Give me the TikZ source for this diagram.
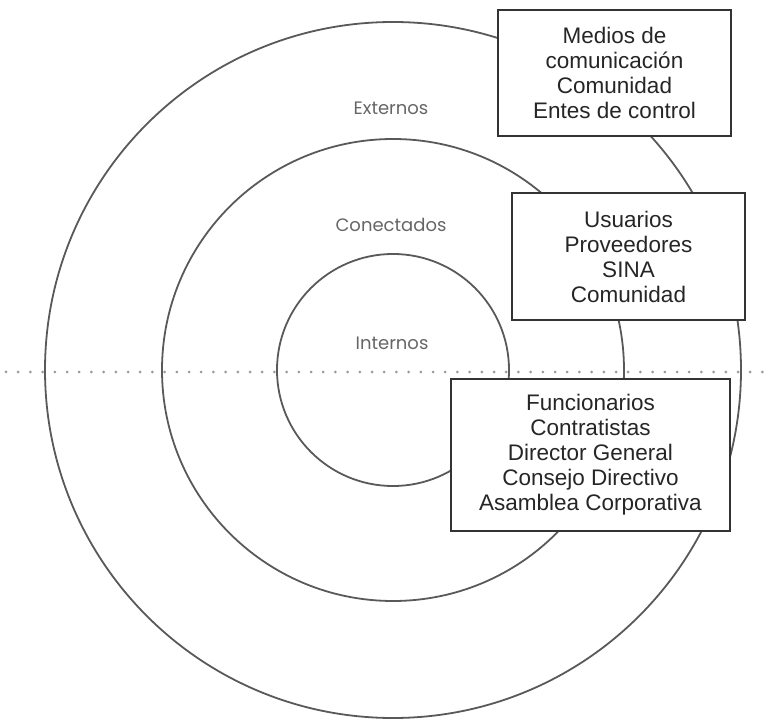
\documentclass[tikz,border=0pt]{standalone}
\usepackage{fontspec}
\setmainfont{Liberation Sans}
\newfontfamily\ringfont{Poppins}
\usepackage{tikz}
\usetikzlibrary{positioning}
\usepackage{xcolor}

\begin{document}
\begin{tikzpicture}[x=1pt,y=-1pt,
  ring/.style={draw=black!65, line width=1.8pt},
  ringlabel/.style={font=\ringfont\fontsize{18}{21}\selectfont, text=black!60},
  group/.style={draw=black!80, line width=1.8pt, fill=white, align=center,
    font=\fontsize{22.5}{25}\selectfont, text=black!85, inner sep=0pt}]
\useasboundingbox (0,0) rectangle (766,719);
% dotted divider
\draw[black!40, line width=3pt, line cap=round, dash pattern=on 0pt off 12.2pt] (6,372) -- (766,372);
% three rings around one centre
\coordinate (centre) at (393,370);
\draw[ring] (centre) circle[radius=348];
\draw[ring] (centre) circle[radius=231];
\draw[ring] (centre) circle[radius=116];
\node[ringlabel] (externos) at (391,108) {Externos};
\node[ringlabel] (conectados) at (391,225) {Conectados};
\node[ringlabel] (internos) at (392,343) {Internos};
% who sits in each ring
\node[group, minimum width=233, minimum height=126] (ext) at (614.5,73)
  {Medios de\\comunicación\\Comunidad\\Entes de control};
\node[group, minimum width=233, minimum height=127] (con) at (628.5,256.5)
  {Usuarios\\Proveedores\\SINA\\Comunidad};
\node[group, minimum width=279, minimum height=152] (int) at (590.5,455)
  {Funcionarios\\Contratistas\\Director General\\Consejo Directivo\\Asamblea Corporativa};
\end{tikzpicture}
\end{document}
